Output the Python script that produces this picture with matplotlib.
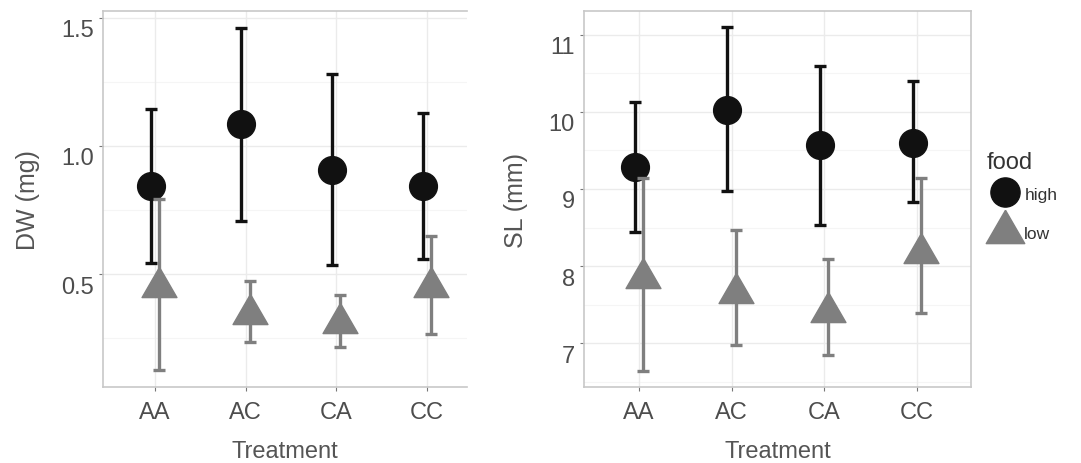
import numpy as np
import matplotlib
matplotlib.use("Agg")
import matplotlib.pyplot as plt
from matplotlib.lines import Line2D
from matplotlib.transforms import ScaledTranslation

# data
treatments = ['AA', 'AC', 'CA', 'CC']

dw_high = [0.844, 1.086, 0.906, 0.844]
dw_high_lo = [0.543, 0.708, 0.536, 0.559]
dw_high_hi = [1.145, 1.462, 1.280, 1.128]
dw_low = [0.449, 0.343, 0.308, 0.449]
dw_low_lo = [0.125, 0.233, 0.217, 0.266]
dw_low_hi = [0.793, 0.474, 0.418, 0.650]

sl_high = [9.29, 10.03, 9.57, 9.60]
sl_high_lo = [8.44, 8.98, 8.53, 8.83]
sl_high_hi = [10.13, 11.10, 10.60, 10.40]
sl_low = [7.84, 7.65, 7.40, 8.17]
sl_low_lo = [6.64, 6.98, 6.85, 7.39]
sl_low_hi = [9.14, 8.47, 8.09, 9.14]

high_col = '#111111'
low_col = '#7f7f7f'
text_col = '#4d4d4d'
grid_col = '#ebebeb'
dodge = 0.045
# R style filled triangle, centred on its centroid
tri = [(0, 1.1547), (-1, -0.5774), (1, -0.5774), (0, 1.1547)]

plt.rcParams['font.family'] = ['Liberation Sans', 'DejaVu Sans']

fig = plt.figure(figsize=(10.81, 4.64), dpi=100)
ax1 = fig.add_axes([0.0953, 0.1638, 0.3367, 0.8103])
ax2 = fig.add_axes([0.5402, 0.1638, 0.3580, 0.8103])


def draw(ax, hi, hi_lo, hi_hi, lo, lo_lo, lo_hi, yticks, ylim, xlim, ylabel, minor):
    x = np.arange(1, len(treatments) + 1)
    for m in minor:
        ax.axhline(m, color='#f5f5f5', lw=0.8, zorder=0)
    for t in yticks:
        ax.axhline(t, color=grid_col, lw=1.0, zorder=0)
    for xi in x:
        ax.axvline(xi, color=grid_col, lw=1.0, zorder=0)
    hi = np.array(hi); lo = np.array(lo)
    ax.errorbar(x - dodge, hi, yerr=[hi - np.array(hi_lo), np.array(hi_hi) - hi],
                fmt='none', ecolor=high_col, elinewidth=2.4, capsize=4, capthick=2.4, zorder=2)
    ax.plot(x - dodge, hi, 'o', color=high_col, markersize=20, zorder=3)
    ax.errorbar(x + dodge, lo, yerr=[lo - np.array(lo_lo), np.array(lo_hi) - lo],
                fmt='none', ecolor=low_col, elinewidth=2.4, capsize=4, capthick=2.4, zorder=4)
    ax.plot(x + dodge, lo, marker=tri, ls='none', color=low_col, markersize=29, zorder=5)
    ax.set_xlim(*xlim)
    ax.set_ylim(*ylim)
    ax.set_xticks(x)
    ax.set_xticklabels(treatments)
    ax.set_yticks(yticks)
    ax.tick_params(colors='#777777', labelcolor=text_col, labelsize=17, length=3, width=0.8)
    ax.tick_params(axis='x', pad=7)
    ax.set_xlabel('Treatment', fontsize=17, color='#555555', labelpad=12)
    ax.set_ylabel(ylabel, fontsize=18, color='#555555', labelpad=15)
    # labels in the scan sit a little below their ticks
    for lab in ax.get_yticklabels():
        lab.set_transform(lab.get_transform() + ScaledTranslation(0, -0.10, fig.dpi_scale_trans))
    for s in ax.spines.values():
        s.set_color('#c8c8c8')
        s.set_linewidth(1.2)


draw(ax1, dw_high, dw_high_lo, dw_high_hi, dw_low, dw_low_lo, dw_low_hi,
     [0.5, 1.0, 1.5], (0.059, 1.527), (0.43, 4.44), 'DW (mg)', [0.25, 0.75, 1.25])
ax1.set_yticklabels(['0.5', '1.0', '1.5'])
ax1.spines['right'].set_visible(False)

draw(ax2, sl_high, sl_high_lo, sl_high_hi, sl_low, sl_low_lo, sl_low_hi,
     [7, 8, 9, 10, 11], (6.43, 11.31), (0.41, 4.58), 'SL (mm)', [6.5, 7.5, 8.5, 9.5, 10.5])

handles = [Line2D([], [], marker='o', color=high_col, ls='none', markersize=21),
           Line2D([], [], marker=tri, color=low_col, ls='none', markersize=32)]
leg = fig.legend(handles, ['high', 'low'], title='food', loc='upper left',
                 bbox_to_anchor=(0.913, 0.672), frameon=False, fontsize=12.5,
                 title_fontsize=17, handletextpad=0.05, labelspacing=1.4,
                 handlelength=2.1, borderpad=0, borderaxespad=0)
leg._legend_box.align = 'left'
leg._legend_box.sep = 9.5  # tighter gap under the title
for t in leg.get_texts():
    t.set_color('#333333')
leg.get_title().set_color('#333333')

fig.savefig('out.png', dpi=100)
